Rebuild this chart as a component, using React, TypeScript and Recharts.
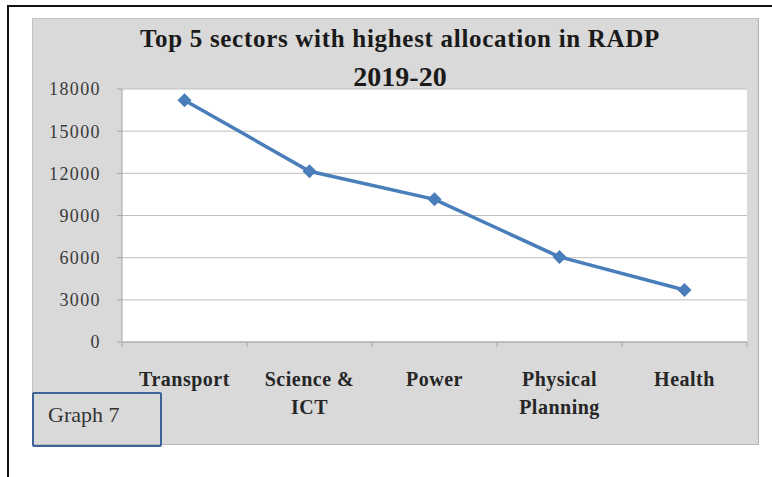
import React from 'react';
import { LineChart, Line, XAxis, YAxis, CartesianGrid } from 'recharts';

const categories = ['Transport', 'Science & ICT', 'Power', 'Physical Planning', 'Health'];
const tickLabels = [['Transport'], ['Science &', 'ICT'], ['Power'], ['Physical', 'Planning'], ['Health']];
const allocation = [17200, 12150, 10150, 6050, 3700];
const yTicks = [0, 3000, 6000, 9000, 12000, 15000, 18000];

const data = categories.map((name, i) => ({ name, value: allocation[i] }));

const CHART_W = 727;
const CHART_H = 427;
const MARGIN = { top: 71, right: 12, bottom: 43, left: 0 };
const Y_W = 90;
const BAND = (CHART_W - MARGIN.left - MARGIN.right - Y_W) / categories.length;
const SERIF = '"Liberation Serif", "Times New Roman", serif';

const XTick = ({ x, y, index }: any) => {
  const lines = tickLabels[index] || [];
  const last = index === categories.length - 1;
  return (
    <g>
      <line x1={x - BAND / 2} x2={x - BAND / 2} y1={y} y2={y + 5} stroke="#a6a6a6" />
      {last && <line x1={x + BAND / 2} x2={x + BAND / 2} y1={y} y2={y + 5} stroke="#a6a6a6" />}
      <text x={x} y={y + 37} textAnchor="middle" fontFamily={SERIF} fontWeight="bold" fontSize={20} letterSpacing={0.5} fill="#262626">
        {lines.map((l, i) => (
          <tspan key={i} x={x} dy={i === 0 ? '0.355em' : 28}>{l}</tspan>
        ))}
      </text>
    </g>
  );
};

const Diamond = ({ cx, cy }: any) => (
  <path d={`M${cx},${cy - 7}L${cx + 7},${cy}L${cx},${cy + 7}L${cx - 7},${cy}Z`} fill="#4a7ebb" />
);

export default function App() {
  return (
    <div style={{ position: 'absolute', left: 0, top: 0, width: 772, height: 477, background: '#fff', overflow: 'hidden' }}>
      <div style={{ position: 'absolute', left: 8, top: 5, width: 764, height: 2, background: '#111' }} />
      <div style={{ position: 'absolute', left: 7, top: 5, width: 2, height: 472, background: '#111' }} />
      <div style={{ position: 'absolute', left: 32, top: 18, width: CHART_W, height: CHART_H, background: '#d9d9d9', boxSizing: 'border-box', border: '1px solid #c4c4c4', borderRightColor: '#b0b0b0', borderBottomColor: '#b8b8b8' }}>
        <LineChart width={CHART_W} height={CHART_H} data={data} margin={MARGIN} style={{ position: 'absolute', left: -1, top: -1 }}>
          <CartesianGrid vertical={false} stroke="#bfbfbf" fill="#ffffff" />
          <XAxis
            dataKey="name"
            height={60}
            padding={{ left: BAND / 2, right: BAND / 2 }}
            tickSize={0}
            tickMargin={0}
            tickLine={false}
            axisLine={{ stroke: '#a6a6a6' }}
            tick={<XTick />}
            interval={0}
          />
          <YAxis
            width={Y_W}
            domain={[0, 18000]}
            ticks={yTicks}
            interval={0}
            tickSize={5}
            tickMargin={16}
            axisLine={{ stroke: '#a6a6a6' }}
            tickLine={{ stroke: '#a6a6a6' }}
            tick={{ fontFamily: SERIF, fontSize: 18, fill: '#3a3a3a', letterSpacing: 1.4 }}
          />
          <Line type="linear" dataKey="value" stroke="#4a7ebb" strokeWidth={3.5} dot={<Diamond />} activeDot={false} isAnimationActive={false} />
        </LineChart>
      </div>
      <div style={{ position: 'absolute', left: 0, width: 800, top: 25, textAlign: 'center', fontFamily: SERIF, fontWeight: 'bold', fontSize: 25, letterSpacing: 0.7, lineHeight: '28px', color: '#1a1a1a', whiteSpace: 'nowrap' }}>
        Top 5 sectors with highest allocation in RADP
      </div>
      <div style={{ position: 'absolute', left: 0, width: 800, top: 61, textAlign: 'center', fontFamily: SERIF, fontWeight: 'bold', fontSize: 28, lineHeight: '31px', color: '#1a1a1a', whiteSpace: 'nowrap' }}>
        2019-20
      </div>
      <div style={{ position: 'absolute', left: 32, top: 392, width: 130, height: 55, boxSizing: 'border-box', border: '2px solid #3c6496', borderRadius: 2, fontFamily: SERIF, fontSize: 22, color: '#333', padding: '8px 0 0 14px' }}>
        Graph 7
      </div>
    </div>
  );
}
